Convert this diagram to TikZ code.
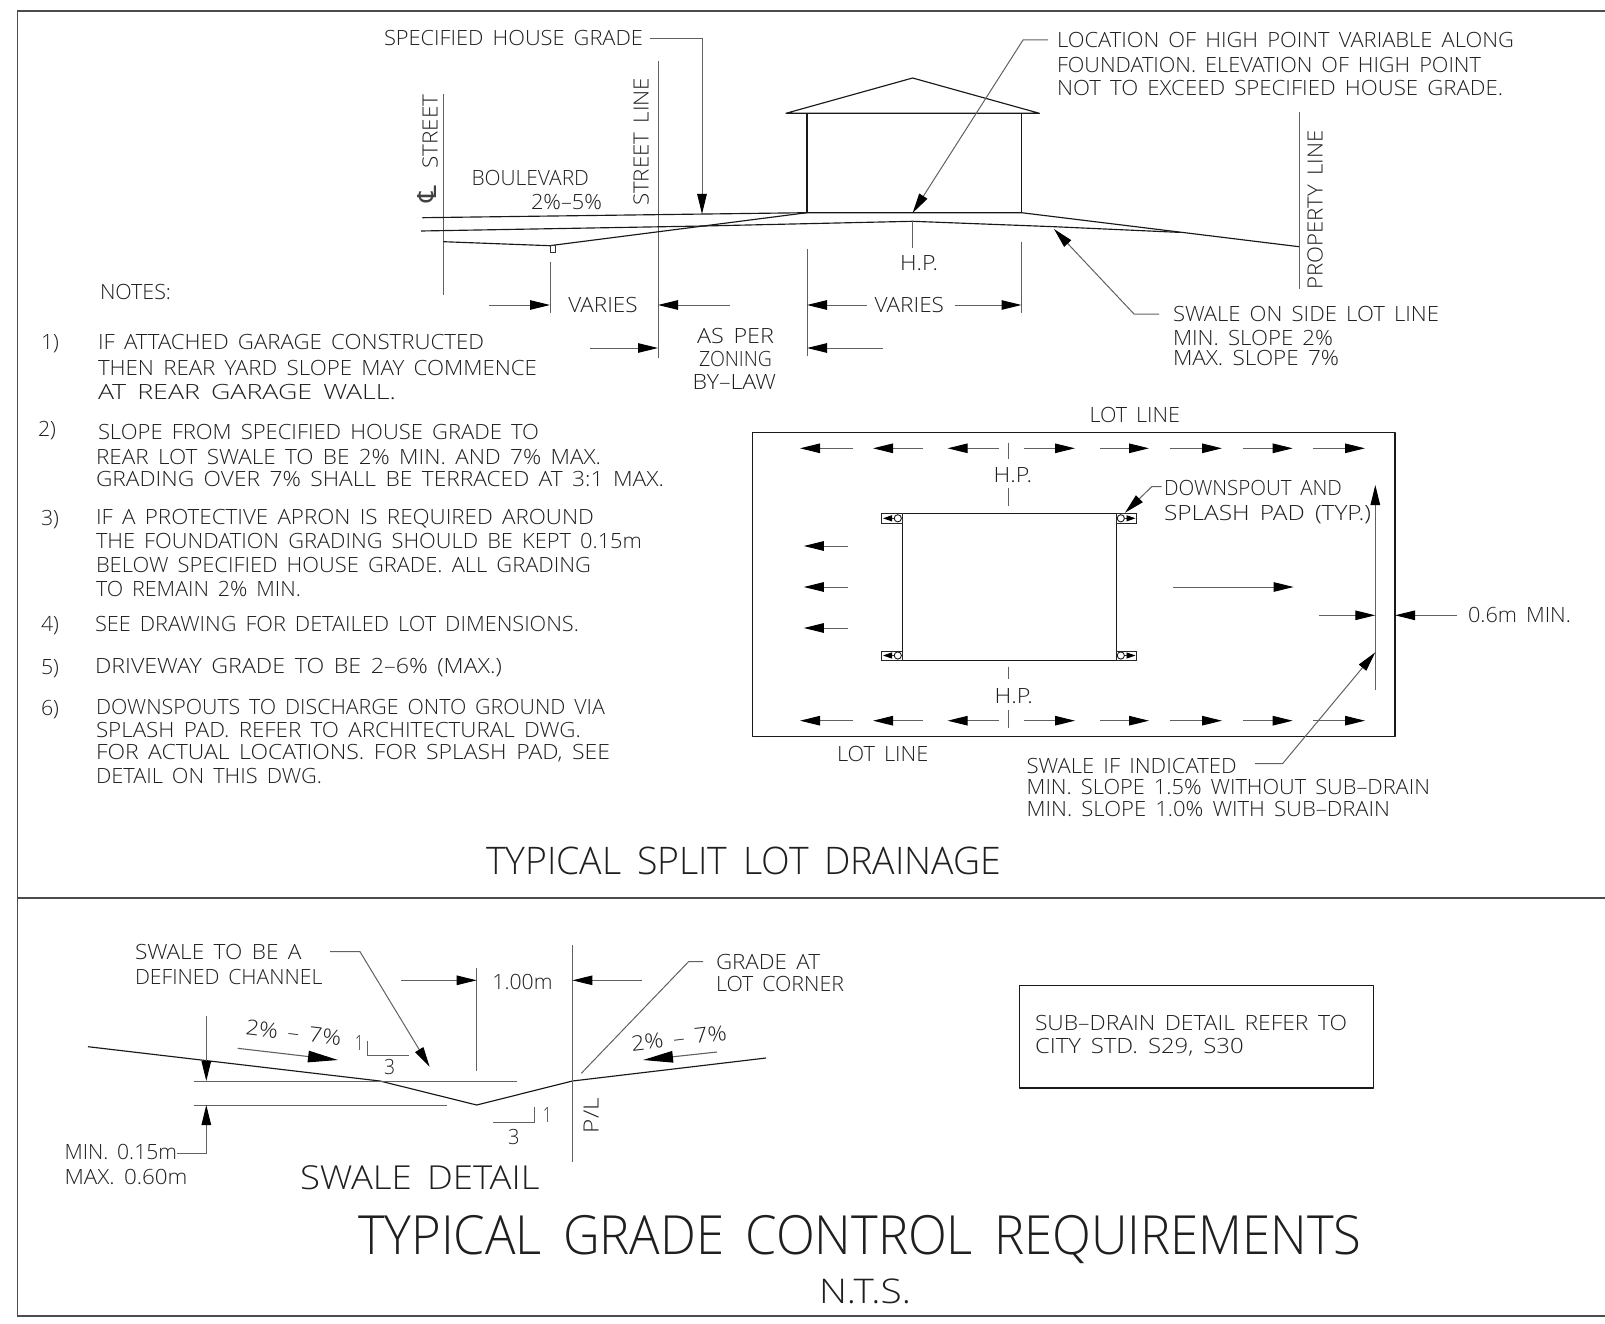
\documentclass[tikz,border=0pt]{standalone}
\usepackage{fontspec}
\usepackage{graphicx}
\usetikzlibrary{arrows.meta}
\setmainfont{Open Sans Light}[WordSpace=1.6]
\newfontfamily\clfont{DejaVu Sans}
\newcounter{lblc}
% size, x, y-centre, x-end, text
\newcommand{\lblx}[5]{\stepcounter{lblc}\pgfmathsetmacro\lblW{(#4)-(#2)}\pgfmathsetmacro\lblB{(#3)+0.358*#1}%
 \node[lab,anchor=base west,font=\fontsize{#1}{#1}\selectfont] (t\arabic{lblc}) at (#2,\lblB) {\resizebox{\lblW pt}{\height}{#5}};}
\newcommand{\lbl}[4]{\lblx{21}{#1}{#2}{#3}{#4}}
% angle, x, y (base start), length, text
\newcommand{\lblr}[5]{\stepcounter{lblc}%
 \node[lab,anchor=base west,rotate=#1,font=\fontsize{21}{21}\selectfont] (t\arabic{lblc}) at (#2,#3) {\resizebox{#4 pt}{\height}{#5}};}
\tikzset{
 lab/.style={inner sep=0pt,outer sep=0pt,text=black!88},
 obj/.style={line width=1.15pt,black!90,line join=round},
 thn/.style={line width=1pt,black!62,line join=miter},
 dim/.style={thn,-{Triangle[length=20pt,width=9.5pt,color=black]}},
 bigar/.style={thn,line width=1.1pt,-{Triangle[length=30pt,width=11.5pt,color=black]}},
 small/.style={line width=.9pt,black!80,-{Triangle[length=9pt,width=6pt,color=black]}},
}
\begin{document}
\begin{tikzpicture}[x=1pt,y=-1pt]
\useasboundingbox (0,0) rectangle (1605,1324);
\fill[white] (0,0) rectangle (1605,1324);
% frame
\draw[line width=1.2pt,black!70] (1605,11) -- (17.5,11) -- (17.5,1316) -- (1605,1316);
\draw[line width=1.2pt,black!70] (17.5,898) -- (1605,898);

%% ---- section: street, house
\draw[thn] (658,61) -- (658,358);
\draw[thn] (443.4,94) -- (443.4,295);
\draw[thn] (1299,112) -- (1299,289);
\draw[obj] (786,113.3) -- (912.6,78) -- (1039.4,113.3) -- cycle;
\draw[obj] (807,113.3) -- (807,212.7) (1021.5,113.3) -- (1021.5,212.7);
\draw[obj] (422.4,217.7) -- (807,212.7) -- (1021.5,212.7) -- (1299,246.7);
\draw[obj] (421,231) -- (703.7,226) -- (912.6,221.3) -- (1054,226.7) -- (1180,232.4);
\draw[obj] (443.4,241.7) -- (549.6,245.7) -- (807,212.7);
\draw[line width=.9pt,black!80] (550.5,245.5) rectangle (555.4,252.3);
\draw[thn] (912.6,221.3) -- (912.6,248);
\draw[thn] (550,261.7) -- (550,313);
\draw[thn] (807,249) -- (807,356);
\draw[thn] (1021.5,241.7) -- (1021.5,313);
% leaders
\draw[dim] (650,38.3) -- (702,38.3) -- (702,214);
\draw[dim] (1048,40) -- (1023,40) -- (912.6,213);
\draw[dim] (1159,314) -- (1134,314) -- (1054,229);
% dimensions
\draw[dim] (489.4,305) -- (550,305);
\draw[dim] (729.5,305) -- (658,305);
\draw[dim] (590,348) -- (658,348);
\draw[dim] (883,348) -- (807,348);
\draw[dim] (866.6,305) -- (807,305);
\draw[dim] (954.5,305) -- (1021.5,305);
% labels
\lbl{384}{37.7}{643}{SPECIFIED HOUSE GRADE}
\node[rotate=90,anchor=base,inner sep=0pt,text=black!75,font=\fontsize{26}{26}\selectfont\clfont] (cl) at (436,194.5) {℄};
\lblr{90}{437.5}{168.5}{74}{STREET}
\lblr{90}{648.5}{206}{128}{STREET LINE}
\lblr{90}{1322.7}{289.5}{159}{PROPERTY LINE}
\lbl{471.5}{178}{589}{BOULEVARD}
\lbl{531}{202}{602}{2\%--5\%}
\lbl{900}{262.7}{938}{H.P.}
\lbl{568.4}{305}{637.6}{VARIES}
\lbl{874.6}{305}{944}{VARIES}
\lbl{697}{336}{774}{AS PER}
\lbl{699}{359}{772}{ZONING}
\lbl{692.5}{381.7}{776}{BY--LAW}
\lbl{1057}{40}{1514}{LOCATION OF HIGH POINT VARIABLE ALONG}
\lbl{1057}{64.5}{1481}{FOUNDATION. ELEVATION OF HIGH POINT}
\lbl{1057}{88}{1503}{NOT TO EXCEED SPECIFIED HOUSE GRADE.}
\lbl{1173}{314}{1439}{SWALE ON SIDE LOT LINE}
\lbl{1173}{338}{1333}{MIN. SLOPE 2\%}
\lbl{1173}{358}{1339}{MAX. SLOPE 7\%}

%% ---- notes
\lbl{100}{292}{171}{NOTES:}
\lbl{41}{342}{59}{1)}
\lbl{98}{342}{484}{IF ATTACHED GARAGE CONSTRUCTED}
\lbl{98}{367.5}{537}{THEN REAR YARD SLOPE MAY COMMENCE}
\lbl{98}{392}{396}{AT REAR GARAGE WALL.}
\lbl{38}{429}{56}{2)}
\lbl{98}{432}{539}{SLOPE FROM SPECIFIED HOUSE GRADE TO}
\lbl{96}{456.5}{601}{REAR LOT SWALE TO BE 2\% MIN. AND 7\% MAX.}
\lbl{96}{479}{664}{GRADING OVER 7\% SHALL BE TERRACED AT 3:1 MAX.}
\lbl{41}{518}{59}{3)}
\lbl{96}{517}{594}{IF A PROTECTIVE APRON IS REQUIRED AROUND}
\lbl{96}{540.5}{642}{THE FOUNDATION GRADING SHOULD BE KEPT 0.15m}
\lbl{96}{565}{591}{BELOW SPECIFIED HOUSE GRADE. ALL GRADING}
\lbl{96}{588.6}{301}{TO REMAIN 2\% MIN.}
\lbl{41}{624}{59}{4)}
\lbl{95}{624}{579}{SEE DRAWING FOR DETAILED LOT DIMENSIONS.}
\lbl{41}{667}{59}{5)}
\lbl{95}{666}{502}{DRIVEWAY GRADE TO BE 2--6\% (MAX.)}
\lbl{41}{708}{59}{6)}
\lbl{96}{707}{605}{DOWNSPOUTS TO DISCHARGE ONTO GROUND VIA}
\lbl{96}{730}{581}{SPLASH PAD. REFER TO ARCHITECTURAL DWG.}
\lbl{96}{752}{610}{FOR ACTUAL LOCATIONS. FOR SPLASH PAD, SEE}
\lbl{96}{776}{322}{DETAIL ON THIS DWG.}

%% ---- plan
\draw[obj] (752.5,432.3) rectangle (1395,736.7);
\draw[obj] (902.5,513.7) rectangle (1116.3,660.3);
\foreach \ya/\yb in {448.3/a,720.7/b}{
 \foreach \t/\s in {800/853,873/923,947.6/999,1075/1024,1149/1100,1222/1169.5,1292.7/1243,1365/1312.8}{
  \draw[dim] (\s,\ya) -- (\t,\ya);
 }
}
\draw[thn] (1008.7,442.7) -- (1008.7,459.3) (1008.7,487.7) -- (1008.7,506);
\draw[thn] (1008.7,666.7) -- (1008.7,679) (1008.7,710) -- (1008.7,728);
\foreach \y in {546,587,628}{ \draw[dim] (848,\y) -- (803.8,\y); }
\draw[dim] (1173,587) -- (1293.6,587);
% splash pads
\foreach \ytop/\yc in {513.7/518.3,651/655.5}{
 \draw[line width=.9pt,black!85] (881.5,\ytop) rectangle (902.5,\ytop+9.3);
 \draw[line width=.9pt,black!85] (1116.5,\ytop) rectangle (1136.6,\ytop+9.3);
 \draw[line width=.9pt,black!90] (897.8,\yc) circle (3.6);
 \draw[line width=.9pt,black!90] (1120.8,\yc) circle (3.6);
 \draw[small] (893.5,\yc) -- (883,\yc);
 \draw[small] (1125,\yc) -- (1135.5,\yc);
}
\draw[dim] (1161.7,486.7) -- (1151.7,486.7) -- (1125,512.7);
\draw[dim] (1375.3,690) -- (1375.3,485);
\draw[dim] (1319,615.3) -- (1375.3,615.3);
\draw[dim] (1456.7,615.3) -- (1395,615.3);
\draw[dim] (1255,763.6) -- (1282.6,763.6) -- (1375.3,652.3);
\lbl{1089.5}{415}{1180}{LOT LINE}
\lbl{993.6}{475}{1032}{H.P.}
\lbl{994.5}{695.7}{1033}{H.P.}
\lbl{1164}{487.7}{1342}{DOWNSPOUT AND}
\lbl{1164}{513}{1371}{SPLASH PAD (TYP.)}
\lbl{1468}{615}{1571}{0.6m MIN.}
\lbl{837}{754}{928.4}{LOT LINE}
\lbl{1026.7}{765.7}{1236.6}{SWALE IF INDICATED}
\lbl{1026.7}{787}{1430}{MIN. SLOPE 1.5\% WITHOUT SUB--DRAIN}
\lbl{1026.7}{808.7}{1390}{MIN. SLOPE 1.0\% WITH SUB--DRAIN}
\lblx{38}{486}{861}{1001}{TYPICAL SPLIT LOT DRAINAGE}

%% ---- swale detail
\draw[obj] (88,1046.7) -- (380,1081) -- (476.7,1105) -- (572.4,1081) -- (766,1058);
\draw[thn] (194.3,1081) -- (517,1081);
\draw[thn] (194.3,1105) -- (447,1105);
\draw[thn] (476.7,968) -- (476.7,1070.7);
\draw[thn] (572.4,945) -- (572.4,1161.7);
\draw[dim] (206.3,1016) -- (206.3,1081);
\draw[dim] (177,1153.3) -- (206.3,1153.3) -- (206.3,1105);
\draw[dim] (330,951.7) -- (360,951.7) -- (429.6,1066.7);
\draw[dim] (401,980.3) -- (476.7,980.3);
\draw[dim] (641.5,980.3) -- (572.4,980.3);
\draw[thn] (703,961.7) -- (688.5,961.7) -- (581.3,1073.3);
\draw[bigar] (237.7,1048.3) -- (338,1060);
\draw[bigar] (717,1052) -- (643,1060);
\draw[thn] (367.4,1040.7) -- (367.4,1055) -- (409.2,1055);
\draw[thn] (534,1107) -- (534,1122.3) -- (493.4,1122.3);
\lbl{135}{952}{301.5}{SWALE TO BE A}
\lbl{135}{976.7}{322.4}{DEFINED CHANNEL}
\lbl{492.4}{982}{552.5}{1.00m}
\lbl{716}{961.7}{820}{GRADE AT}
\lbl{716}{984.3}{844}{LOT CORNER}
\lbl{64.6}{1152}{177}{MIN. 0.15m}
\lbl{64.6}{1176.7}{187.5}{MAX. 0.60m}
\lbl{355}{1043}{363}{1}
\lbl{384}{1066.7}{395}{3}
\lbl{543}{1115}{551}{1}
\lbl{508}{1137}{519.5}{3}
\lblr{-6.7}{245}{1034.5}{96}{2\% -- 7\%}
\lblr{6.7}{632}{1051}{96}{2\% -- 7\%}
\lblr{90}{598.5}{1133}{35}{P/L}
\lblx{33}{300}{1178}{539.5}{SWALE DETAIL}

%% ---- sub-drain box
\draw[obj] (1019.5,985.7) rectangle (1373.7,1088);
\lbl{1035}{1022.6}{1347}{SUB--DRAIN DETAIL REFER TO}
\lbl{1035}{1046}{1243.7}{CITY STD. S29, S30}

%% ---- title
\lblx{54}{358}{1235.5}{1361.4}{TYPICAL GRADE CONTROL REQUIREMENTS}
\lblx{34}{819}{1291}{911}{N.T.S.}
\end{tikzpicture}
\end{document}
